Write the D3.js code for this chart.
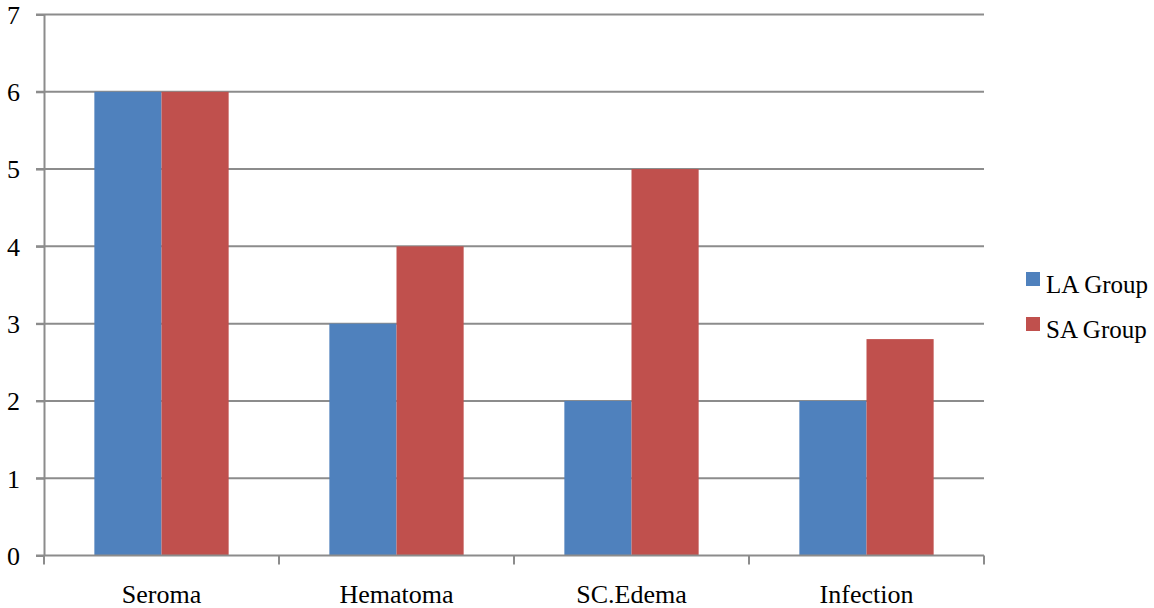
<!DOCTYPE html>
<html>
<head>
<meta charset="utf-8">
<script src="https://cdn.jsdelivr.net/npm/d3@7"></script>
<style>
  html, body { margin: 0; padding: 0; background: #fff; }
  svg text { font-family: "Liberation Serif", "DejaVu Serif", serif; fill: #000; }
</style>
</head>
<body>
<svg id="chart" width="1154" height="608"></svg>
<script>
// Complication counts per group
const categories = ["Seroma", "Hematoma", "SC.Edema", "Infection"];
const seriesNames = ["LA Group", "SA Group"];
const laValues = [6, 3, 2, 2];
const saValues = [6, 4, 5, 2.8];
const yTicks = [0, 1, 2, 3, 4, 5, 6, 7];
const colors = ["#4f81bd", "#c0504d"];

const svg = d3.select("#chart");
const plotLeft = 44, plotRight = 984, plotTop = 14.5, plotBottom = 555.5;

const x = d3.scaleBand().domain(categories).range([plotLeft, plotRight]).paddingInner(0).paddingOuter(0);
const y = d3.scaleLinear().domain([0, 7]).range([plotBottom, plotTop]);

// Gap width 150%: two bars take 2/3.5 of each band
const inner = d3.scaleBand().domain(seriesNames)
  .range([0, x.bandwidth()])
  .paddingOuter(0.75).paddingInner(0);

// Horizontal gridlines
svg.append("g").selectAll("line").data(yTicks.filter(d => d > 0)).join("line")
  .attr("x1", plotLeft - 8).attr("x2", plotRight)
  .attr("y1", d => y(d)).attr("y2", d => y(d))
  .attr("stroke", "#8c8c8c").attr("stroke-width", 2);

// Bars
const rows = categories.map((c, i) => ({ cat: c, vals: [laValues[i], saValues[i]] }));
const groups = svg.append("g").selectAll("g").data(rows).join("g")
  .attr("transform", d => `translate(${x(d.cat)},0)`);
groups.selectAll("rect").data(d => d.vals.map((v, j) => ({ v, s: seriesNames[j], j })))
  .join("rect")
  .attr("x", d => inner(d.s))
  .attr("width", inner.bandwidth())
  .attr("y", d => y(d.v))
  .attr("height", d => y(0) - y(d.v))
  .attr("fill", d => colors[d.j]);

// Y axis
const yAxis = svg.append("g").attr("transform", `translate(${plotLeft},0)`)
  .call(d3.axisLeft(y).tickValues(yTicks).tickSize(8).tickSizeOuter(0).tickFormat(d3.format("d")));
yAxis.select(".domain").attr("stroke", "#8c8c8c").attr("stroke-width", 2);
yAxis.selectAll(".tick line").attr("stroke", "#8c8c8c").attr("stroke-width", 2);
yAxis.selectAll(".tick text").attr("font-size", 26).attr("x", -24).attr("dy", "0.34em")
  .style("font-family", '"Liberation Serif", serif').attr("fill", "#000");

// X axis: baseline with tick marks at band boundaries
const xg = svg.append("g");
xg.append("line").attr("x1", plotLeft - 8).attr("x2", plotRight)
  .attr("y1", plotBottom).attr("y2", plotBottom)
  .attr("stroke", "#8c8c8c").attr("stroke-width", 2);
const bounds = categories.map(c => x(c)).concat([plotRight]);
xg.selectAll("line.tk").data(bounds).join("line").attr("class", "tk")
  .attr("x1", d => d).attr("x2", d => d)
  .attr("y1", plotBottom).attr("y2", plotBottom + 9)
  .attr("stroke", "#8c8c8c").attr("stroke-width", 2);
xg.selectAll("text").data(categories).join("text")
  .attr("x", d => x(d) + x.bandwidth() / 2)
  .attr("y", 603)
  .attr("text-anchor", "middle")
  .attr("font-size", 26)
  .text(d => d);

// Legend
const legend = svg.append("g").selectAll("g").data(seriesNames).join("g")
  .attr("transform", (d, i) => `translate(1026,${272 + i * 45})`);
legend.append("rect").attr("width", 14).attr("height", 14)
  .attr("fill", (d, i) => colors[i]);
legend.append("text").attr("x", 20).attr("y", 21).attr("font-size", 25).text(d => d);
</script>
</body>
</html>
